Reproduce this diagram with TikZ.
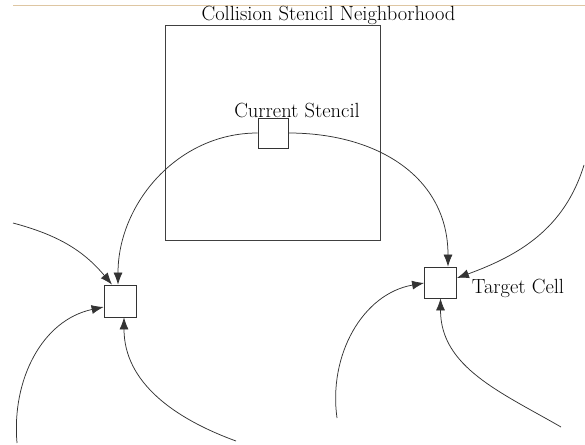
\documentclass[tikz,border=0pt]{standalone}
\usepackage{fontspec}
\usetikzlibrary{arrows.meta}
\definecolor{tanline}{RGB}{222,198,162}
\begin{document}
\begin{tikzpicture}[x=1pt,y=1pt,
  every node/.style={font=\fontsize{20.5}{24}\selectfont},
  cell/.style={draw=black!80,line width=0.8pt,minimum width=31pt,minimum height=31pt,inner sep=0pt},
  lbl/.style={inner sep=0pt},
  flow/.style={draw=black!80,line width=0.75pt,-{Latex[length=12pt,width=9pt]}}]
\useasboundingbox (0,0) rectangle (585,-444);
% top tan line
\coordinate (tl1) at (13,-5.7);
\coordinate (tl2) at (585,-5.7);
\draw[tanline,line width=1.6pt] (tl1) -- (tl2);
% neighborhood box
\node[draw=black!75,line width=0.9pt,minimum width=215pt,minimum height=215pt,inner sep=0pt] (nb) at (272.5,-132.5) {};
\node[lbl] (title) at (328.5,-15.5) {Collision Stencil Neighborhood};
% cells
\node[cell,minimum width=30pt,minimum height=30pt] (cs) at (273,-133) {};
\node[lbl] (cslbl) at (297,-110) {Current Stencil};
\node[cell,minimum width=32pt,minimum height=32pt] (lc) at (120,-301) {};
\node[cell,minimum width=32pt,minimum height=31pt] (tc) at (440.5,-282.5) {};
\node[lbl] (tclbl) at (518,-288) {Target Cell};
% free ends
\coordinate (a3) at (13,-223);
\coordinate (a4) at (17,-443);
\coordinate (a5) at (236,-441);
\coordinate (a6) at (584,-165);
\coordinate (a7) at (337,-418);
\coordinate (a8) at (561,-427);
% connectors
\draw[flow] (cs.west) to[out=180,in=90] ([xshift=-2pt]lc.north);
\draw[flow] (cs.east) to[out=0,in=90,looseness=1.1] ([xshift=7.5pt]tc.north);
\draw[flow] (a3) to[out=-15,in=130] ([xshift=-8pt]lc.north);
\draw[flow] (a4) to[out=95,in=192] ([yshift=-6pt]lc.west);
\draw[flow] (a5) to[out=160,in=-90] ([xshift=4pt]lc.south);
\draw[flow] (a6) to[out=253,in=20] ([yshift=4.5pt]tc.east);
\draw[flow] (a7) to[out=98,in=190] ([yshift=-0.5pt]tc.west);
\draw[flow] (a8) to[out=150,in=-90] (tc.south);
\end{tikzpicture}
\end{document}
